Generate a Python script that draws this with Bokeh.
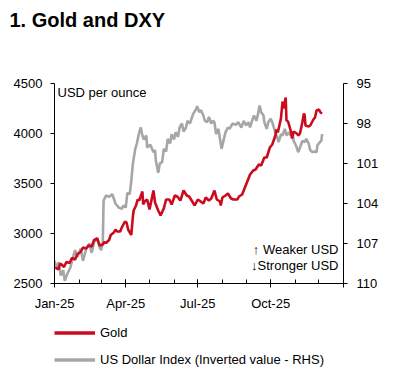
import pandas as pd
from bokeh.plotting import figure
from bokeh.layouts import column
from bokeh.models import (Range1d, LinearAxis, FixedTicker, Label, Legend, LegendItem, Title)
from bokeh.embed import file_html
from bokeh.resources import INLINE

# ---------------- data ----------------
gold_dates = [
    "2025-01-02", "2025-01-06", "2025-01-08", "2025-01-10", "2025-01-13", "2025-01-16", "2025-01-20",
    "2025-01-23", "2025-01-27", "2025-01-30", "2025-02-03", "2025-02-06", "2025-02-10", "2025-02-13",
    "2025-02-17", "2025-02-20", "2025-02-24", "2025-02-27", "2025-03-03", "2025-03-05", "2025-03-07",
    "2025-03-11", "2025-03-13", "2025-03-17", "2025-03-19", "2025-03-21", "2025-03-25", "2025-03-27",
    "2025-03-31", "2025-04-02", "2025-04-04", "2025-04-08", "2025-04-10", "2025-04-11", "2025-04-14",
    "2025-04-16", "2025-04-18", "2025-04-22", "2025-04-23", "2025-04-25", "2025-04-28", "2025-05-01",
    "2025-05-06", "2025-05-08", "2025-05-12", "2025-05-15", "2025-05-19", "2025-05-22", "2025-05-26",
    "2025-05-29", "2025-06-02", "2025-06-05", "2025-06-09", "2025-06-13", "2025-06-17", "2025-06-20",
    "2025-06-24", "2025-06-27", "2025-07-01", "2025-07-03", "2025-07-08", "2025-07-11", "2025-07-15",
    "2025-07-18", "2025-07-22", "2025-07-25", "2025-07-29", "2025-07-30", "2025-08-01", "2025-08-05",
    "2025-08-08", "2025-08-12", "2025-08-15", "2025-08-20", "2025-08-22", "2025-08-26", "2025-08-29",
    "2025-09-02", "2025-09-05", "2025-09-09", "2025-09-12", "2025-09-16", "2025-09-19", "2025-09-23",
    "2025-09-26", "2025-09-30", "2025-10-03", "2025-10-07", "2025-10-08", "2025-10-10", "2025-10-14",
    "2025-10-16", "2025-10-17", "2025-10-20", "2025-10-21", "2025-10-23", "2025-10-27", "2025-10-28",
    "2025-10-30", "2025-11-03", "2025-11-05", "2025-11-07", "2025-11-10", "2025-11-12", "2025-11-13",
    "2025-11-14", "2025-11-18", "2025-11-20", "2025-11-24", "2025-11-26", "2025-11-28", "2025-12-01",
    "2025-12-03", "2025-12-05",
]
gold_values = [
    2660, 2640, 2700, 2690, 2665, 2715, 2705,
    2755, 2740, 2795, 2815, 2860, 2850, 2880,
    2870, 2935, 2950, 2880, 2890, 2915, 2905,
    2935, 2985, 3010, 3040, 3020, 3020, 3060,
    3120, 3110, 3040, 2985, 3170, 3230, 3280,
    3340, 3330, 3420, 3290, 3320, 3340, 3240,
    3430, 3310, 3230, 3180, 3250, 3340, 3340,
    3290, 3380, 3370, 3330, 3430, 3380, 3370,
    3320, 3280, 3340, 3330, 3300, 3360, 3330,
    3350, 3430, 3340, 3320, 3280, 3360, 3380,
    3400, 3350, 3340, 3340, 3370, 3390, 3450,
    3530, 3590, 3630, 3640, 3690, 3680, 3760,
    3760, 3860, 3890, 3980, 4040, 4010, 4150,
    4320, 4250, 4360, 4130, 4120, 4010, 3950,
    4020, 4000, 3980, 4000, 4110, 4200, 4180,
    4080, 4070, 4080, 4140, 4160, 4230, 4240,
    4210, 4200,
]

dxy_dates = [
    "2025-01-01", "2025-01-03", "2025-01-06", "2025-01-09", "2025-01-12", "2025-01-14", "2025-01-17",
    "2025-01-21", "2025-01-25", "2025-01-27", "2025-01-30", "2025-02-03", "2025-02-06", "2025-02-10",
    "2025-02-14", "2025-02-17", "2025-02-20", "2025-02-24", "2025-02-27", "2025-03-01", "2025-03-03",
    "2025-03-04", "2025-03-07", "2025-03-11", "2025-03-15", "2025-03-19", "2025-03-23", "2025-03-27",
    "2025-03-29", "2025-04-01", "2025-04-03", "2025-04-06", "2025-04-08", "2025-04-10", "2025-04-13",
    "2025-04-15", "2025-04-18", "2025-04-20", "2025-04-22", "2025-04-24", "2025-04-27", "2025-04-28",
    "2025-05-02", "2025-05-06", "2025-05-08", "2025-05-09", "2025-05-12", "2025-05-14", "2025-05-17",
    "2025-05-19", "2025-05-22", "2025-05-24", "2025-05-27", "2025-05-29", "2025-06-01", "2025-06-03",
    "2025-06-06", "2025-06-08", "2025-06-11", "2025-06-13", "2025-06-16", "2025-06-18", "2025-06-21",
    "2025-06-25", "2025-06-29", "2025-06-30", "2025-07-03", "2025-07-05", "2025-07-08", "2025-07-10",
    "2025-07-13", "2025-07-15", "2025-07-18", "2025-07-20", "2025-07-22", "2025-07-24", "2025-07-27",
    "2025-07-31", "2025-08-02", "2025-08-05", "2025-08-08", "2025-08-10", "2025-08-14", "2025-08-18",
    "2025-08-21", "2025-08-25", "2025-08-28", "2025-08-31", "2025-09-03", "2025-09-05", "2025-09-08",
    "2025-09-10", "2025-09-13", "2025-09-15", "2025-09-17", "2025-09-19", "2025-09-22", "2025-09-23",
    "2025-09-26", "2025-09-28", "2025-10-01", "2025-10-03", "2025-10-06", "2025-10-09", "2025-10-11",
    "2025-10-14", "2025-10-16", "2025-10-19", "2025-10-21", "2025-10-24", "2025-10-26", "2025-10-29",
    "2025-10-30", "2025-11-02", "2025-11-04", "2025-11-05", "2025-11-08", "2025-11-10", "2025-11-13",
    "2025-11-15", "2025-11-18", "2025-11-20", "2025-11-23", "2025-11-25", "2025-11-28", "2025-11-29",
    "2025-12-02", "2025-12-04", "2025-12-05",
]
dxy_values = [
    108.3, 108.9, 108.4, 109.4, 109.0, 109.8, 109.3,
    108.8, 107.9, 107.5, 108.0, 107.4, 108.3, 107.4,
    107.0, 107.7, 106.9, 106.6, 107.3, 107.5, 106.9,
    103.8, 103.4, 103.5, 103.3, 104.0, 104.3, 104.4,
    104.15, 104.3, 103.2, 103.3, 102.3, 101.0, 99.9,
    99.5, 98.65, 98.3, 98.9, 99.2, 98.9, 99.8,
    99.6, 100.15, 100.0, 100.8, 101.7, 101.0, 100.9,
    99.9, 100.1, 99.15, 99.5, 98.8, 99.2, 98.65,
    99.0, 98.3, 98.0, 98.6, 98.3, 97.8, 98.0,
    97.3, 96.9, 96.7, 97.15, 97.0, 97.4, 97.8,
    97.9, 97.5, 98.0, 97.8, 97.9, 98.8, 98.4,
    99.9, 99.4, 98.65, 98.3, 98.4, 98.0, 98.1,
    97.9, 98.3, 97.8, 98.15, 97.9, 98.3, 97.7,
    97.4, 97.8, 97.3, 96.65, 97.15, 97.4, 97.9,
    98.4, 97.9, 97.65, 97.9, 98.5, 99.0, 99.4,
    98.8, 98.9, 98.4, 98.9, 98.65, 98.9, 98.8,
    99.3, 99.65, 100.0, 100.15, 99.65, 99.3, 99.4,
    99.15, 99.5, 100.0, 100.15, 100.1, 100.15, 99.65,
    99.4, 99.3, 98.8,
]

x_start, x_end = "2025-01-01", "2026-01-01"
x_major_dates = ["2025-01-01", "2025-04-01", "2025-07-01", "2025-10-01", "2026-01-01"]
x_major_labels = ["Jan-25", "Apr-25", "Jul-25", "Oct-25", ""]
x_minor_dates = ["2025-%02d-01" % m for m in range(1, 13)] + ["2026-01-01"]
left_ticks = [2500, 3000, 3500, 4000, 4500]
right_ticks = [95, 98, 101, 104, 107, 110]
series_names = ["Gold", "US Dollar Index (Inverted value - RHS)"]
chart_title = "1. Gold and DXY"

# ---------------- helpers ----------------
def ms(s):
    return pd.Timestamp(s).value / 1e6

FONT = "Liberation Sans"
RED = "#cc0a1e"
GRAY = "#a6a6a6"
W = 397


def strip(h, top=0, bottom=0):
    f = figure(width=W, height=h, output_backend="svg", toolbar_location=None,
               x_axis_type=None, y_axis_type=None,
               x_range=Range1d(0, 1), y_range=Range1d(0, 1),
               min_border_left=54, min_border_right=54,
               min_border_top=top, min_border_bottom=bottom)
    f.outline_line_color = None
    f.xgrid.visible = False
    f.ygrid.visible = False
    f.background_fill_color = "white"
    f.border_fill_color = "white"
    return f

# ---------------- title strip ----------------
pt = strip(45)
pt.title = Title(text=chart_title, align="left", offset=-45, standoff=12,
                 vertical_align="bottom",
                 text_font=FONT, text_font_size="20px", text_font_style="bold",
                 text_color="black")

# ---------------- main chart ----------------
p = figure(width=W, height=270, output_backend="svg", toolbar_location=None,
           x_axis_type=None, y_axis_type=None,
           x_range=Range1d(ms(x_start), ms(x_end)),
           y_range=Range1d(left_ticks[0], left_ticks[-1]),
           min_border_left=54, min_border_right=54, min_border_top=38, min_border_bottom=32)
p.extra_y_ranges = {"dxy": Range1d(start=right_ticks[-1], end=right_ticks[0])}
p.outline_line_color = None
p.background_fill_color = "white"
p.border_fill_color = "white"
p.xgrid.visible = False
p.ygrid.visible = False

xaxis = LinearAxis(ticker=FixedTicker(ticks=[ms(d) for d in x_major_dates],
                                      minor_ticks=[ms(d) for d in x_minor_dates]))
xaxis.major_label_overrides = {ms(d): lab for d, lab in zip(x_major_dates, x_major_labels)}
xaxis.major_tick_in = 4
xaxis.major_tick_out = 4
xaxis.minor_tick_in = 4
xaxis.minor_tick_out = 0
xaxis.major_label_standoff = 8
p.add_layout(xaxis, "below")

yaxis = LinearAxis(ticker=FixedTicker(ticks=left_ticks, minor_ticks=[]))
yaxis.major_tick_in = 0
yaxis.major_tick_out = 4
yaxis.major_label_standoff = 8
p.add_layout(yaxis, "left")

raxis = LinearAxis(y_range_name="dxy", ticker=FixedTicker(ticks=right_ticks, minor_ticks=[]))
raxis.major_tick_in = 0
raxis.major_tick_out = 4
raxis.major_label_standoff = 9
p.add_layout(raxis, "right")

for ax in (xaxis, yaxis, raxis):
    ax.axis_line_color = "black"
    ax.major_tick_line_color = "black"
    ax.minor_tick_line_color = "black"
    ax.major_label_text_font = FONT
    ax.major_label_text_font_size = "13px"
    ax.major_label_text_color = "black"

p.line(pd.to_datetime(dxy_dates), dxy_values, y_range_name="dxy", line_color=GRAY, line_width=2.6)
p.line(pd.to_datetime(gold_dates), gold_values, line_color=RED, line_width=2.6)

p.add_layout(Label(x=3, y=191, x_units="screen", y_units="screen", text="USD per ounce",
                   text_font=FONT, text_font_size="13px", text_color="black",
                   text_baseline="middle"))
p.add_layout(Label(x=284, y=34, x_units="screen", y_units="screen", text="\u2191 Weaker USD",
                   text_font=FONT, text_font_size="13px", text_color="black",
                   text_baseline="middle", text_align="right"))
p.add_layout(Label(x=284, y=18, x_units="screen", y_units="screen", text="\u2193Stronger USD",
                   text_font=FONT, text_font_size="13px", text_color="black",
                   text_baseline="middle", text_align="right"))

# ---------------- legend strip ----------------
pl = strip(55)
nan = float("nan")
lg_gold = pl.line([nan], [nan], line_color=RED, line_width=3.5)
lg_dxy = pl.line([nan], [nan], line_color=GRAY, line_width=3.5)
legend = Legend(items=[LegendItem(label=series_names[0], renderers=[lg_gold]),
                       LegendItem(label=series_names[1], renderers=[lg_dxy])],
                location=(0, 3), orientation="vertical",
                glyph_width=41, glyph_height=13, label_height=13, label_standoff=5,
                spacing=12, padding=0, margin=0,
                border_line_color=None, background_fill_alpha=0,
                label_text_font=FONT, label_text_font_size="13px", label_text_color="black")
pl.add_layout(legend)

layout = column(pt, p, pl, spacing=0)
open("out.html", "w").write(file_html(layout, INLINE))
